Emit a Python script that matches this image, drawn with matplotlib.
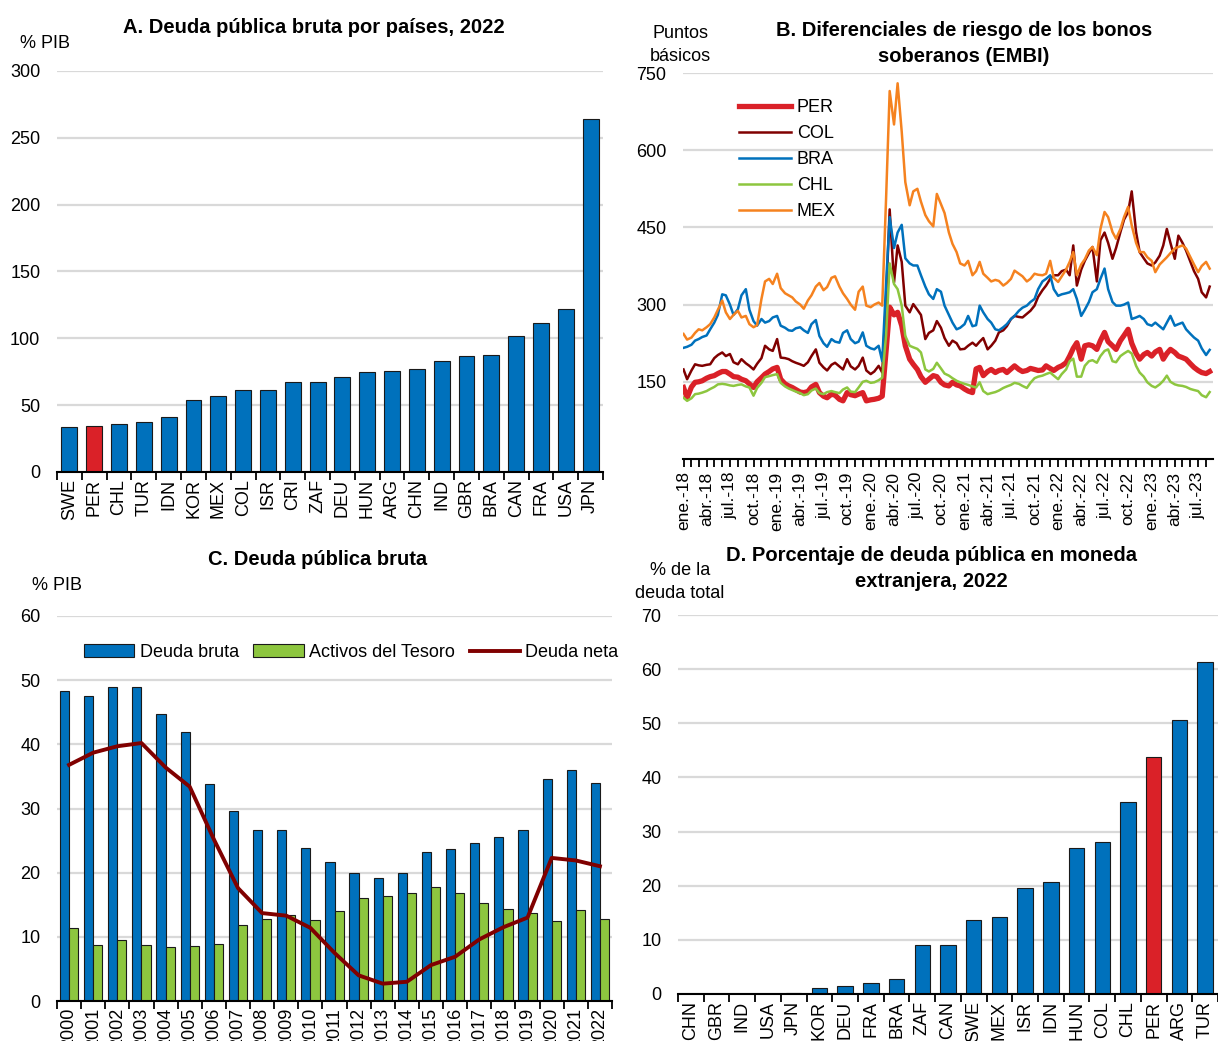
import numpy as np
import pandas as pd
import matplotlib
matplotlib.use("Agg")
import matplotlib.pyplot as plt
import matplotlib.dates as mdates
from matplotlib.lines import Line2D
from matplotlib.patches import Patch

plt.rcParams['font.family'] = ['Liberation Sans Narrow', 'Liberation Sans', 'DejaVu Sans']

BLUE = "#0071BC"
RED = "#DA2128"
GREEN = "#8DC63F"
DARKRED = "#800000"
ORANGE = "#F5821F"
GRID = "#D9D9D9"

# ---- Panel A: gross public debt by country, 2022 (% GDP)
a_countries = ["SWE", "PER", "CHL", "TUR", "IDN", "KOR", "MEX", "COL", "ISR", "CRI", "ZAF",
               "DEU", "HUN", "ARG", "CHN", "IND", "GBR", "BRA", "CAN", "FRA", "USA", "JPN"]
a_debt = [33.4, 34.6, 35.8, 37.1, 40.8, 54.0, 56.5, 61.0, 61.2, 67.2, 67.7,
          70.7, 74.7, 75.9, 76.9, 83.4, 86.9, 87.9, 101.8, 111.8, 121.7, 263.9]

# ---- Panel B: EMBI spreads (basis points), semi-monthly readings from ene.-18
b_per = [139, 119, 140, 149, 150, 152, 157, 160, 162, 166, 170, 170, 165, 160, 159, 155, 152, 146, 139, 150,
         158, 165, 170, 175, 178, 155, 146, 142, 139, 135, 130, 129, 131, 140, 145, 129, 122, 119, 126, 124,
         116, 113, 129, 125, 123, 126, 129, 113, 115, 116, 118, 122, 210, 295, 280, 285, 259, 220, 194, 184,
         174, 160, 149, 155, 162, 160, 149, 144, 142, 149, 144, 142, 136, 132, 129, 175, 178, 162, 170, 174,
         168, 172, 174, 168, 175, 181, 174, 170, 172, 176, 174, 172, 173, 181, 176, 172, 178, 181, 187, 200,
         215, 226, 194, 220, 222, 220, 213, 230, 246, 228, 220, 213, 230, 240, 252, 225, 205, 194, 203, 207,
         200, 208, 213, 194, 205, 213, 207, 200, 197, 194, 185, 178, 172, 168, 166, 170]
b_col = [174, 155, 172, 184, 182, 181, 183, 184, 196, 202, 207, 200, 204, 188, 184, 194, 186, 181, 174, 185,
         196, 220, 213, 210, 233, 197, 196, 194, 190, 187, 184, 181, 188, 200, 213, 187, 178, 172, 183, 187,
         180, 174, 194, 180, 174, 181, 197, 172, 165, 170, 181, 168, 311, 485, 343, 415, 383, 298, 285, 301,
         290, 280, 233, 245, 250, 268, 255, 235, 220, 230, 225, 213, 214, 220, 226, 220, 228, 235, 213, 220,
         230, 246, 250, 258, 272, 278, 276, 275, 282, 288, 298, 315, 328, 337, 350, 357, 357, 365, 368, 357,
         415, 337, 368, 385, 400, 412, 345, 425, 440, 420, 389, 410, 441, 465, 480, 520, 441, 402, 390, 380,
         376, 382, 395, 415, 447, 420, 389, 434, 420, 405, 383, 365, 350, 324, 314, 335]
b_bra = [216, 218, 222, 230, 233, 237, 240, 252, 265, 280, 320, 318, 300, 280, 291, 318, 330, 290, 268, 259,
         272, 265, 268, 275, 278, 259, 255, 250, 249, 254, 256, 250, 245, 262, 270, 239, 225, 218, 233, 228,
         226, 245, 250, 233, 225, 228, 246, 220, 215, 213, 220, 190, 340, 470, 410, 440, 455, 390, 380, 376,
         376, 357, 335, 320, 311, 330, 325, 298, 280, 265, 252, 255, 262, 278, 258, 260, 298, 285, 272, 265,
         252, 250, 256, 262, 272, 278, 288, 294, 298, 305, 311, 330, 345, 350, 357, 330, 317, 320, 322, 324,
         330, 311, 278, 290, 305, 324, 330, 350, 370, 330, 305, 298, 298, 300, 304, 272, 275, 278, 272, 262,
         259, 265, 258, 252, 265, 278, 259, 262, 265, 252, 243, 236, 230, 215, 202, 212]
b_chl = [119, 113, 118, 126, 127, 129, 132, 136, 140, 145, 146, 145, 143, 142, 144, 145, 141, 139, 123, 138,
         148, 159, 161, 163, 165, 148, 141, 137, 134, 131, 128, 124, 126, 133, 137, 128, 126, 130, 132, 130,
         128, 135, 139, 131, 130, 139, 150, 152, 148, 149, 153, 158, 240, 380, 340, 330, 298, 239, 220, 217,
         214, 207, 174, 170, 175, 187, 176, 166, 162, 157, 152, 149, 146, 144, 141, 139, 149, 132, 126, 128,
         130, 133, 138, 141, 144, 148, 146, 142, 138, 148, 157, 160, 162, 165, 168, 162, 155, 165, 174, 190,
         195, 160, 160, 181, 190, 192, 187, 200, 210, 213, 190, 188, 200, 205, 210, 205, 181, 168, 160, 149,
         142, 139, 145, 152, 162, 150, 145, 143, 142, 140, 136, 134, 132, 124, 120, 130]
b_mex = [243, 232, 236, 245, 252, 250, 256, 262, 275, 290, 308, 285, 272, 280, 288, 275, 278, 262, 256, 260,
         311, 345, 350, 340, 360, 332, 322, 318, 314, 306, 300, 292, 308, 318, 335, 342, 328, 334, 352, 355,
         335, 322, 311, 300, 290, 325, 335, 298, 295, 300, 304, 298, 506, 715, 650, 730, 636, 538, 493, 520,
         525, 500, 474, 462, 452, 515, 495, 478, 440, 418, 402, 380, 376, 385, 357, 365, 383, 360, 352, 345,
         348, 346, 337, 342, 350, 366, 360, 355, 345, 350, 360, 358, 357, 360, 385, 352, 344, 355, 368, 383,
         402, 357, 378, 388, 405, 412, 396, 447, 480, 470, 441, 428, 447, 470, 490, 454, 420, 402, 402, 392,
         385, 363, 378, 385, 392, 400, 409, 412, 415, 409, 392, 378, 363, 375, 383, 370]
b_dates = pd.date_range("2018-01-01", periods=len(b_per), freq="SMS")

# ---- Panel C: Peru gross debt, treasury assets and net debt (% GDP)
c_years = [str(y) for y in range(2000, 2023)]
c_gross = [48.3, 47.5, 48.9, 48.9, 44.7, 41.9, 33.8, 29.6, 26.6, 26.7, 23.8, 21.6,
           19.9, 19.2, 19.9, 23.2, 23.7, 24.7, 25.6, 26.7, 34.6, 36.0, 33.9]
c_assets = [11.4, 8.7, 9.5, 8.8, 8.4, 8.5, 8.9, 11.9, 12.8, 13.4, 12.6, 14.0,
            16.0, 16.4, 16.9, 17.8, 16.9, 15.3, 14.4, 13.7, 12.4, 14.2, 12.8]
c_net = [36.8, 38.7, 39.7, 40.2, 36.4, 33.4, 25.2, 17.6, 13.7, 13.3, 11.4, 7.5,
         4.0, 2.7, 3.0, 5.6, 6.9, 9.6, 11.5, 13.0, 22.3, 21.9, 21.0]

# ---- Panel D: share of public debt in foreign currency, 2022
d_countries = ["CHN", "GBR", "IND", "USA", "JPN", "KOR", "DEU", "FRA", "BRA", "ZAF", "CAN",
               "SWE", "MEX", "ISR", "IDN", "HUN", "COL", "CHL", "PER", "ARG", "TUR"]
d_share = [0.0, 0.0, 0.0, 0.0, 0.1, 1.1, 1.4, 2.0, 2.7, 9.05, 9.1,
           13.7, 14.2, 19.5, 20.7, 27.0, 28.0, 35.4, 43.7, 50.6, 61.3]

W, H = 1218, 1041
fig = plt.figure(figsize=(W / 100, H / 100), dpi=100)


def box(left, top, right, bottom):
    return [left / W, 1 - bottom / H, (right - left) / W, (bottom - top) / H]


def style(ax, ticks, lim):
    ax.set_ylim(*lim)
    ax.set_yticks(ticks)
    ax.yaxis.grid(True, color=GRID, linewidth=1.6)
    ax.set_axisbelow(True)
    for s in ["left", "right", "top"]:
        ax.spines[s].set_visible(False)
    ax.spines["bottom"].set_linewidth(1.5)
    ax.spines["bottom"].set_zorder(5)
    ax.tick_params(axis="y", length=0, labelsize=13, pad=12)


def category_axis(ax, labels):
    n = len(labels)
    ax.set_xlim(-0.5, n - 0.5)
    ax.set_xticks(range(n))
    ax.set_xticklabels(labels, rotation=90, fontsize=13)
    ax.set_xticks(np.arange(-0.5, n, 1.0), minor=True)
    ax.tick_params(axis="x", which="major", length=0, pad=5)
    ax.tick_params(axis="x", which="minor", length=6, width=1.3, direction="out")


# Panel A
axA = fig.add_axes(box(57, 71, 603, 472))
colorsA = [RED if c == "PER" else BLUE for c in a_countries]
axA.bar(range(len(a_countries)), a_debt, width=0.64, color=colorsA, edgecolor="#1a1a1a", linewidth=0.8)
style(axA, range(0, 301, 50), (0, 300))
category_axis(axA, a_countries)
axA.set_title("A. Deuda pública bruta por países, 2022", fontsize=14.5, fontweight="bold", pad=27, x=0.47)
fig.text(45 / W, 1 - 44 / H, "% PIB", fontsize=13, ha="center", va="center")

# Panel B
axB = fig.add_axes(box(683, 73, 1213, 459))
style(axB, range(150, 751, 150), (0, 750))
axB.plot(b_dates, b_per, color=RED, linewidth=3.8, label="PER", zorder=3)
axB.plot(b_dates, b_col, color=DARKRED, linewidth=1.8, label="COL", zorder=4)
axB.plot(b_dates, b_bra, color=BLUE, linewidth=1.8, label="BRA", zorder=4)
axB.plot(b_dates, b_chl, color=GREEN, linewidth=1.8, label="CHL", zorder=4)
axB.plot(b_dates, b_mex, color=ORANGE, linewidth=1.8, label="MEX", zorder=4)
axB.set_xlim(pd.Timestamp("2017-12-30"), pd.Timestamp("2023-08-28"))
axB.xaxis.set_major_locator(mdates.MonthLocator(bymonth=[1, 4, 7, 10]))
axB.xaxis.set_minor_locator(mdates.MonthLocator())
mes = {1: "ene.", 4: "abr.", 7: "jul.", 10: "oct."}
axB.xaxis.set_major_formatter(plt.FuncFormatter(
    lambda v, p: "{}-{}".format(mes[mdates.num2date(v).month], mdates.num2date(v).strftime("%y"))))
axB.tick_params(axis="x", which="both", length=6, width=1.3, direction="out", labelsize=12.5,
                labelrotation=90, pad=3)
axB.legend(loc="upper left", bbox_to_anchor=(0.075, 0.975), frameon=False, fontsize=13,
           handlelength=2.9, handletextpad=0.3, labelspacing=0.5)
axB.set_title("B. Diferenciales de riesgo de los bonos\nsoberanos (EMBI)", fontsize=14.5,
              fontweight="bold", pad=8, x=0.53, linespacing=1.45)
fig.text(680 / W, 1 - 45 / H, "Puntos\nbásicos", fontsize=13, ha="center", va="center", linespacing=1.45)

# Panel C
axC = fig.add_axes(box(57, 616, 612, 1001))
x = np.arange(len(c_years))
axC.bar(x - 0.19, c_gross, width=0.38, color=BLUE, edgecolor="#1a1a1a", linewidth=0.8)
axC.bar(x + 0.19, c_assets, width=0.38, color=GREEN, edgecolor="#1a1a1a", linewidth=0.8)
axC.plot(x, c_net, color=DARKRED, linewidth=2.8, zorder=4)
style(axC, range(0, 61, 10), (0, 60))
category_axis(axC, c_years)
axC.set_title("C. Deuda pública bruta", fontsize=14.5, fontweight="bold", pad=37, x=0.47)
fig.text(57 / W, 1 - 585 / H, "% PIB", fontsize=13, ha="center", va="center")
handlesC = [Patch(facecolor=BLUE, edgecolor="#1a1a1a", linewidth=0.8),
            Patch(facecolor=GREEN, edgecolor="#1a1a1a", linewidth=0.8),
            Line2D([0], [0], color=DARKRED, linewidth=2.8)]
axC.legend(handlesC, ["Deuda bruta", "Activos del Tesoro", "Deuda neta"], loc="center",
           bbox_to_anchor=(0.53, 0.905), ncol=3, frameon=False, fontsize=13, handlelength=2.8,
           handleheight=0.7, handletextpad=0.3, columnspacing=0.8)

# Panel D
axD = fig.add_axes(box(678, 615, 1218, 994))
colorsD = [RED if c == "PER" else BLUE for c in d_countries]
axD.bar(range(len(d_countries)), d_share, width=0.6, color=colorsD, edgecolor="#1a1a1a", linewidth=0.8)
style(axD, range(0, 71, 10), (0, 70))
category_axis(axD, d_countries)
axD.set_title("D. Porcentaje de deuda pública en moneda\nextranjera, 2022", fontsize=14.5,
              fontweight="bold", pad=20, x=0.47, linespacing=1.45)
fig.text(680 / W, 1 - 582 / H, "% de la\ndeuda total", fontsize=13, ha="center", va="center",
         linespacing=1.45)

fig.savefig("out.png", dpi=100)
